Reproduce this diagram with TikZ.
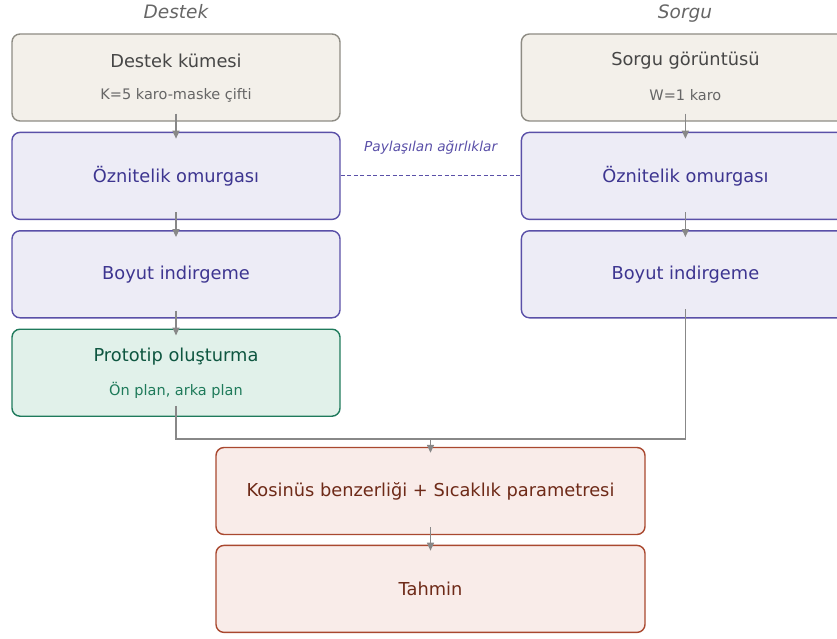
\documentclass[tikz,border=0pt]{standalone}
\usepackage{fontspec}
\setmainfont{DejaVu Sans}
\usetikzlibrary{positioning,arrows.meta}
\definecolor{inpfill}{HTML}{F3F0EA}
\definecolor{inpdraw}{HTML}{8E8C84}
\definecolor{inptext}{HTML}{464646}
\definecolor{inpsub}{HTML}{666666}
\definecolor{encfill}{HTML}{EDECF6}
\definecolor{encdraw}{HTML}{5A50A8}
\definecolor{enctext}{HTML}{3D3590}
\definecolor{protofill}{HTML}{E1F1EA}
\definecolor{protodraw}{HTML}{1F7A5C}
\definecolor{prototext}{HTML}{0E5640}
\definecolor{protosub}{HTML}{1E7A5A}
\definecolor{outfill}{HTML}{F9ECE9}
\definecolor{outdraw}{HTML}{A9482F}
\definecolor{outtext}{HTML}{6E2A18}
\definecolor{linecol}{HTML}{888888}
\newcommand\boxsz{\fontsize{17.8}{21}\selectfont}
\newcommand\subsz{\fontsize{14.5}{17}\selectfont}
\newcommand\notesz{\fontsize{13.7}{16}\selectfont}
\newcommand\headsz{\fontsize{18.5}{22}\selectfont}

\begin{document}
\begin{tikzpicture}[
  x=1pt, y=-1pt,
  node distance=10pt and 180pt,
  box/.style={rounded corners=8pt, line width=1.4pt, minimum width=328pt, minimum height=87pt, inner sep=0pt},
  inpbox/.style={box, draw=inpdraw, fill=inpfill},
  encbox/.style={box, draw=encdraw, fill=encfill, font=\boxsz, text=enctext},
  protobox/.style={box, draw=protodraw, fill=protofill},
  outbox/.style={box, draw=outdraw, fill=outfill, font=\boxsz, text=outtext, minimum width=429pt},
  head/.style={font=\headsz\itshape, text=black!60, anchor=base},
  arr/.style={-{Triangle[length=8pt, width=7pt]}, line width=1.4pt, linecol},
  wire/.style={line width=1.4pt, linecol},
  shared/.style={dash pattern=on 4pt off 2.5pt, line width=1.1pt, encdraw}
]
\useasboundingbox (0,0) rectangle (837,639);
\clip (0,0) rectangle (837,639);

% ---- column titles ----
\node[head] (destekT) at (176,18.5) {Destek};
\node[head] (sorguT) at (685,18.5) {Sorgu};

% ---- support branch ----
\node[inpbox] (destek) at (176,77.5) {};
\node[font=\boxsz, text=inptext] (destekA) at ([yshift=16.5pt]destek.center) {Destek kümesi};
\node[font=\subsz, text=inpsub] (destekB) at ([yshift=-18pt]destek.center) {K=5 karo-maske çifti};
\node[encbox, below=of destek] (ozL) {Öznitelik omurgası};
\node[encbox, below=of ozL] (boyutL) {Boyut indirgeme};
\node[protobox, below=of boyutL] (proto) {};
\node[font=\boxsz, text=prototext] (protoA) at ([yshift=16.5pt]proto.center) {Prototip oluşturma};
\node[font=\subsz, text=protosub] (protoB) at ([yshift=-17.5pt]proto.center) {Ön plan, arka plan};

% ---- query branch ----
\node[inpbox, right=of destek] (sorgu) {};
\node[font=\boxsz, text=inptext] (sorguA) at ([yshift=16.5pt]sorgu.center) {Sorgu görüntüsü};
\node[font=\subsz, text=inpsub] (sorguB) at ([yshift=-18pt]sorgu.center) {W=1 karo};
\node[encbox, below=of sorgu] (ozR) {Öznitelik omurgası};
\node[encbox, below=of ozR] (boyutR) {Boyut indirgeme};

% ---- head ----
\node[outbox] (kosinus) at (430.5,491) {Kosinüs benzerliği + Sıcaklık parametresi};
\node[outbox, below=9.5pt of kosinus] (tahmin) {Tahmin};
\coordinate (merge) at (430.5,439);

% ---- arrows ----
\draw[arr] ([yshift=8pt]destek.south) -- ([yshift=-7pt]ozL.north);
\draw[arr] ([yshift=8pt]ozL.south) -- ([yshift=-7pt]boyutL.north);
\draw[arr] ([yshift=8pt]boyutL.south) -- ([yshift=-7pt]proto.north);
\draw[arr] ([yshift=8pt]sorgu.south) -- ([yshift=-7pt]ozR.north);
\draw[arr] ([yshift=8pt]ozR.south) -- ([yshift=-7pt]boyutR.north);
\draw[wire] ([yshift=11pt]proto.south) |- (merge) -| ([yshift=10pt]boyutR.south);
\draw[arr] (merge) -- ([yshift=-6pt]kosinus.north);
\draw[arr] ([yshift=8pt]kosinus.south) -- ([yshift=-6pt]tahmin.north);

% shared weights
\draw[shared] (ozL.east) -- (ozR.west)
  node[midway, yshift=28pt, font=\notesz\itshape, text=encdraw] (ortak) {Paylaşılan ağırlıklar};

\end{tikzpicture}
\end{document}
